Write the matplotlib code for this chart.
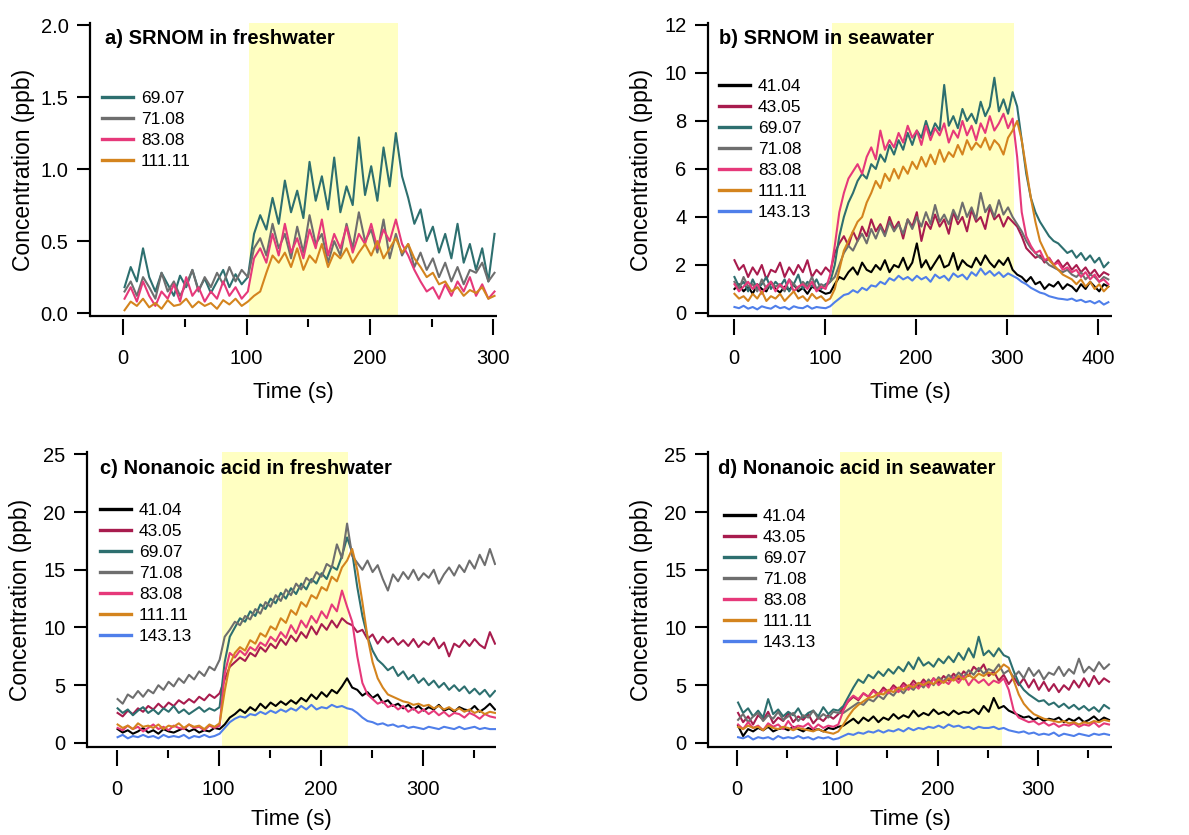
import numpy as np
import matplotlib.pyplot as plt
from matplotlib.ticker import MultipleLocator

plt.rcParams['font.family'] = ['Liberation Sans', 'DejaVu Sans']

W, H = 1189, 835
STEP = 5          # seconds between read-off samples
YELLOW = "#ffffc2"

COLORS = {
    "41.04":  "#000000",
    "43.05":  "#a81c4e",
    "69.07":  "#2d6f6f",
    "71.08":  "#6e6e6e",
    "83.08":  "#e6397a",
    "111.11": "#d4841e",
    "143.13": "#4f7fea",
}

# --- a) SRNOM in freshwater (0-300 s) ---
a_6907 = [0.18, 0.32, 0.22, 0.45, 0.25, 0.15, 0.28, 0.20, 0.12, 0.26, 0.18, 0.30, 0.16, 0.24, 0.14, 0.22, 0.30, 0.18, 0.27, 0.20,
          0.25, 0.55, 0.68, 0.58, 0.80, 0.62, 0.92, 0.70, 0.85, 0.66, 1.05, 0.78, 0.95, 0.72, 1.08, 0.70, 0.88, 0.75, 1.22, 0.82,
          1.02, 0.78, 1.15, 0.88, 1.25, 0.95, 0.80, 0.62, 0.72, 0.50, 0.60, 0.42, 0.55, 0.38, 0.62, 0.35, 0.48, 0.30, 0.45, 0.22, 0.55]
a_7108 = [0.15, 0.22, 0.12, 0.25, 0.18, 0.10, 0.28, 0.15, 0.22, 0.12, 0.20, 0.30, 0.15, 0.25, 0.18, 0.28, 0.20, 0.32, 0.22, 0.30,
          0.25, 0.45, 0.52, 0.40, 0.62, 0.45, 0.55, 0.38, 0.60, 0.42, 0.68, 0.48, 0.55, 0.35, 0.50, 0.40, 0.62, 0.45, 0.70, 0.50,
          0.58, 0.42, 0.65, 0.38, 0.55, 0.40, 0.48, 0.32, 0.42, 0.30, 0.38, 0.25, 0.35, 0.22, 0.32, 0.20, 0.30, 0.28, 0.35, 0.22, 0.28]
a_8308 = [0.10, 0.18, 0.08, 0.22, 0.12, 0.05, 0.15, 0.10, 0.20, 0.08, 0.25, 0.12, 0.18, 0.08, 0.15, 0.10, 0.22, 0.12, 0.18, 0.10,
          0.15, 0.38, 0.45, 0.35, 0.55, 0.40, 0.62, 0.42, 0.52, 0.38, 0.58, 0.45, 0.65, 0.40, 0.55, 0.45, 0.60, 0.42, 0.55, 0.48,
          0.62, 0.45, 0.58, 0.50, 0.65, 0.48, 0.40, 0.30, 0.22, 0.15, 0.18, 0.10, 0.20, 0.12, 0.22, 0.15, 0.25, 0.12, 0.20, 0.10, 0.15]
a_11111 = [0.02, 0.08, 0.05, 0.10, 0.04, 0.07, 0.03, 0.09, 0.05, 0.06, 0.10, 0.04, 0.08, 0.05, 0.07, 0.03, 0.09, 0.06, 0.10, 0.05,
           0.08, 0.12, 0.15, 0.28, 0.40, 0.35, 0.42, 0.32, 0.45, 0.30, 0.40, 0.35, 0.48, 0.32, 0.42, 0.38, 0.45, 0.35, 0.42, 0.48,
           0.40, 0.50, 0.38, 0.45, 0.52, 0.42, 0.48, 0.38, 0.32, 0.25, 0.28, 0.20, 0.22, 0.15, 0.18, 0.12, 0.16, 0.14, 0.18, 0.10, 0.12]

# --- b) SRNOM in seawater (0-410 s) ---
b_4104 = [1.0, 1.2, 0.9, 1.1, 0.8, 1.2, 1.0, 0.9, 1.3, 1.0, 0.85, 1.1, 0.95, 1.2, 0.9, 1.05, 0.8, 1.1, 1.0, 0.9, 0.8, 0.85,
          1.2, 1.5, 1.4, 1.7, 1.9, 1.6, 2.1, 1.8, 1.7, 2.0, 1.8, 2.2, 1.7, 2.0, 1.9, 2.3, 1.8, 2.1, 2.9, 1.9,
          2.2, 1.8, 2.1, 2.4, 1.9, 2.0, 2.5, 1.8, 2.2, 2.0, 1.9, 2.3, 2.0, 2.4, 2.1, 1.9, 2.2, 2.0, 2.3, 1.8,
          1.6, 1.5, 1.3, 1.5, 1.2, 1.3, 1.0, 1.2, 1.1, 1.3, 1.0, 1.2, 1.1, 0.9, 1.2, 1.0, 1.3, 1.1, 0.9, 1.2, 1.1]
b_4305 = [2.2, 1.8, 2.0, 1.5, 1.9, 1.6, 2.0, 1.4, 1.8, 1.7, 2.1, 1.5, 1.9, 1.6, 2.0, 1.7, 2.2, 1.5, 1.8, 1.6, 1.9, 1.7,
          2.5, 2.9, 3.2, 2.8, 3.4, 3.0, 3.6, 3.2, 3.9, 3.4, 3.7, 3.3, 4.0, 3.5, 3.8, 3.1, 3.9, 3.6, 4.2, 3.0,
          3.8, 3.5, 4.1, 3.6, 3.9, 3.3, 4.2, 3.7, 4.0, 3.4, 4.3, 3.8, 4.0, 3.5, 4.4, 3.9, 4.1, 3.6, 4.0, 3.8,
          3.6, 3.2, 2.7, 2.5, 2.3, 2.4, 2.1, 2.3, 2.0, 2.2, 1.9, 2.1, 1.8, 2.0, 1.7, 1.9, 1.6, 1.8, 1.5, 1.7, 1.6]
b_6907 = [1.5, 1.1, 1.3, 0.9, 1.4, 1.0, 1.2, 1.5, 1.0, 1.3, 1.1, 1.4, 0.9, 1.2, 1.6, 1.0, 1.3, 1.1, 1.4, 1.0, 1.2, 1.3,
          2.0, 3.2, 4.0, 4.6, 5.0, 5.5, 5.8, 5.6, 6.2, 6.0, 6.6, 6.3, 7.0, 6.6, 7.2, 6.8, 7.5, 7.0, 7.6, 7.3,
          8.0, 7.4, 7.9, 7.6, 9.5, 7.8, 8.2, 7.7, 8.5, 8.0, 8.3, 7.9, 8.8, 8.2, 8.6, 9.8, 8.4, 8.9, 8.3, 9.2,
          8.6, 7.2, 5.8, 4.8, 4.2, 3.8, 3.5, 3.2, 3.0, 2.9, 2.7, 2.5, 2.6, 2.3, 2.5, 2.2, 2.4, 2.1, 2.3, 1.9, 2.1]
b_7108 = [1.3, 1.0, 1.5, 1.1, 1.2, 0.9, 1.4, 1.0, 1.3, 1.1, 1.2, 0.9, 1.4, 1.2, 1.0, 1.3, 1.1, 1.5, 1.0, 1.2, 1.1, 1.3,
          1.5, 2.0, 2.5, 2.8, 2.6, 3.0, 3.3, 2.9, 3.5, 3.1, 3.6, 3.2, 3.8, 3.4, 3.7, 3.3, 3.9, 3.5, 4.0, 3.6,
          4.2, 3.7, 4.5, 3.8, 4.1, 3.7, 4.3, 3.9, 4.6, 4.0, 4.4, 3.9, 5.0, 4.2, 4.5, 4.0, 4.7, 4.1, 4.4, 4.0,
          3.7, 3.4, 3.0, 2.7, 2.5, 2.3, 2.2, 2.0, 1.9, 1.8, 1.7, 1.8, 1.6, 1.5, 1.7, 1.4, 1.6, 1.5, 1.3, 1.5, 1.4]
b_8308 = [1.2, 0.9, 1.1, 1.3, 1.0, 1.2, 0.8, 1.1, 1.3, 0.9, 1.2, 1.0, 1.4, 0.9, 1.1, 1.2, 1.0, 1.3, 0.9, 1.1, 1.0, 1.6,
          2.8, 4.2, 5.0, 5.6, 5.9, 6.2, 5.8, 6.5, 6.9, 6.4, 7.6, 6.8, 7.2, 6.9, 7.5, 7.1, 7.8, 7.3, 7.6, 7.0,
          7.8, 7.2, 7.7, 7.4, 7.9, 7.1, 7.6, 7.3, 8.0, 7.4, 7.8, 7.2, 7.9, 7.5, 8.2, 7.6, 7.9, 8.3, 7.7, 8.1,
          6.5, 4.2, 3.2, 2.8, 2.5, 2.6, 2.2, 2.3, 2.0, 2.1, 1.8, 1.9, 1.7, 1.8, 1.5, 1.7, 1.4, 1.6, 1.3, 1.4, 1.2]
b_11111 = [0.8, 0.6, 0.7, 0.5, 0.8, 0.6, 0.9, 0.5, 0.7, 0.6, 0.8, 0.5, 0.7, 0.9, 0.6, 0.7, 0.5, 0.8, 0.6, 0.7, 0.5, 0.6,
           1.0, 1.8, 2.6, 3.0, 3.4, 3.8, 4.0, 4.6, 5.0, 5.5, 5.2, 5.8, 5.5, 6.0, 5.6, 6.1, 5.8, 6.3, 6.0, 6.5,
           6.1, 6.6, 6.2, 6.8, 6.3, 6.7, 6.5, 7.0, 6.6, 7.2, 6.8, 7.1, 6.9, 7.3, 6.8, 7.2, 7.0, 6.6, 7.3, 7.6,
           8.0, 7.2, 6.0, 4.8, 3.8, 3.0, 2.6, 2.2, 2.0, 1.8, 1.6, 1.5, 1.4, 1.2, 1.4, 1.1, 1.3, 1.0, 1.2, 0.9, 1.1]
b_14313 = [0.25, 0.20, 0.30, 0.18, 0.25, 0.15, 0.28, 0.22, 0.18, 0.30, 0.20, 0.25, 0.15, 0.28, 0.22, 0.20, 0.30, 0.18, 0.25, 0.22, 0.20, 0.28,
           0.45, 0.60, 0.75, 0.80, 0.95, 0.85, 1.05, 0.95, 1.15, 1.10, 1.30, 1.20, 1.45, 1.35, 1.55, 1.40, 1.50, 1.35, 1.55, 1.40,
           1.50, 1.30, 1.60, 1.45, 1.55, 1.35, 1.65, 1.50, 1.60, 1.40, 1.70, 1.55, 1.85, 1.60, 1.75, 1.55, 1.70, 1.50, 1.65, 1.55,
           1.45, 1.30, 1.20, 1.05, 0.95, 0.85, 0.80, 0.70, 0.65, 0.60, 0.58, 0.55, 0.60, 0.50, 0.55, 0.45, 0.50, 0.40, 0.50, 0.35, 0.45]

# --- c) Nonanoic acid in freshwater (0-370 s) ---
c_4104 = [1.2, 0.9, 1.1, 0.8, 1.0, 1.3, 0.9, 1.1, 0.8, 1.2, 1.0, 0.9, 1.1, 1.3, 1.0, 1.2, 0.9, 1.1, 1.0, 1.3, 1.2,
          1.6, 2.2, 2.5, 2.9, 2.6, 3.1, 2.8, 3.4, 3.0, 3.5, 3.2, 3.6, 3.3, 3.7, 3.4, 3.9, 3.6, 4.2, 3.8, 4.4,
          4.0, 4.6, 4.3, 4.9, 5.6, 4.8, 4.6, 4.1, 4.4, 3.9, 4.2, 3.5, 3.7, 3.2, 3.4, 3.0, 3.3, 2.9, 3.2, 2.8,
          3.1, 2.9, 3.3, 2.8, 3.0, 2.7, 3.1, 2.9, 2.8, 3.2, 2.7, 3.0, 3.4, 2.9]
c_4305 = [2.6, 2.3, 2.8, 2.5, 3.0, 2.7, 3.2, 2.9, 3.4, 3.0, 3.5, 3.2, 3.7, 3.4, 3.8, 3.5, 4.0, 3.7, 4.2, 3.9, 4.3,
          5.5, 6.6, 7.0, 7.4, 7.1, 7.8, 7.5, 8.3, 7.9, 8.6, 8.2, 9.0, 8.5, 9.3, 8.8, 9.6, 9.1, 10.1, 9.4, 10.3,
          9.8, 10.6, 10.0, 10.8, 10.4, 10.2, 9.6, 9.8, 9.0, 9.4, 8.6, 9.2, 8.7, 9.1, 8.5, 8.9, 8.4, 9.0, 8.3, 8.8,
          8.5, 9.1, 8.2, 8.7, 7.5, 8.6, 8.3, 8.9, 8.4, 9.0, 8.5, 8.2, 9.6, 8.6]
c_6907 = [3.0, 2.6, 2.9, 2.4, 2.8, 3.1, 2.6, 2.9, 2.5, 3.0, 2.7, 3.2, 2.6, 2.9, 2.5, 2.8, 3.1, 2.7, 3.0, 2.8, 3.1,
          7.0, 9.2, 10.0, 10.8, 10.5, 11.4, 11.0, 12.0, 11.6, 12.5, 12.1, 13.0, 12.5, 13.4, 12.9, 13.8, 13.3, 14.2, 13.8, 14.7,
          14.2, 15.3, 15.0, 16.2, 17.8, 16.5, 13.5, 11.0, 9.2, 8.0, 7.2, 6.8, 6.3, 6.6, 5.8, 6.2, 5.5, 5.9, 5.2, 5.6,
          5.0, 5.4, 4.8, 5.2, 4.6, 5.0, 4.5, 4.9, 4.3, 4.7, 4.2, 4.6, 4.0, 4.5]
c_7108 = [3.8, 3.4, 4.2, 3.9, 4.5, 4.0, 4.6, 4.3, 5.0, 4.6, 5.3, 4.9, 5.6, 5.2, 5.9, 5.5, 6.2, 5.8, 6.6, 6.3, 7.2,
          9.2, 9.8, 10.5, 10.2, 11.0, 10.7, 11.6, 11.2, 12.2, 11.8, 12.8, 12.3, 13.3, 12.8, 13.8, 13.3, 14.3, 13.9, 14.8, 14.4,
          15.5, 15.2, 17.2, 16.0, 19.0, 16.2, 15.6, 15.0, 15.8, 14.8, 15.4, 14.2, 13.2, 14.6, 14.0, 14.8, 14.2, 15.0, 14.1, 14.7,
          14.3, 15.0, 13.8, 14.6, 15.2, 14.5, 15.4, 14.8, 15.8, 15.1, 16.3, 15.4, 16.8, 15.5]
c_8308 = [1.3, 1.1, 1.5, 1.2, 1.4, 1.0, 1.3, 1.6, 1.2, 1.4, 1.1, 1.5, 1.3, 1.2, 1.6, 1.3, 1.4, 1.1, 1.5, 1.3, 1.5,
          6.0, 7.8, 7.4, 8.0, 7.6, 8.3, 8.0, 8.7, 8.4, 9.2, 8.8, 9.6, 9.1, 10.2, 9.5, 10.6, 10.0, 11.0, 10.4, 11.4,
          10.8, 12.0, 11.4, 13.2, 11.8, 10.5, 7.5, 5.2, 4.2, 3.8, 3.4, 3.6, 3.1, 3.3, 2.9, 3.2, 2.7, 3.0, 2.6, 2.9,
          2.5, 2.8, 2.4, 2.7, 2.3, 2.6, 2.5, 2.2, 2.6, 2.4, 2.1, 2.5, 2.3, 2.2]
c_11111 = [1.6, 1.3, 1.5, 1.2, 1.7, 1.4, 1.5, 1.3, 1.6, 1.2, 1.5, 1.4, 1.7, 1.3, 1.6, 1.4, 1.5, 1.2, 1.6, 1.4, 1.7,
           4.5, 6.8, 7.8, 8.3, 8.0, 8.9, 8.6, 9.5, 9.2, 10.1, 9.8, 10.8, 10.4, 11.5, 11.1, 12.2, 11.8, 12.8, 12.5, 13.5,
           13.2, 14.4, 14.0, 15.2, 15.8, 16.8, 15.0, 12.2, 9.2, 7.0, 5.6, 4.8, 4.2, 4.0, 3.8, 3.6, 3.5, 3.3, 3.4, 3.2,
           3.3, 3.0, 3.2, 2.9, 3.1, 2.8, 3.0, 2.7, 2.9, 2.6, 2.8, 2.5, 2.7, 2.6]
c_14313 = [0.5, 0.7, 0.4, 0.6, 0.5, 0.7, 0.5, 0.6, 0.4, 0.7, 0.5, 0.6, 0.5, 0.7, 0.4, 0.6, 0.5, 0.7, 0.5, 0.6, 0.8,
           1.3, 1.8, 2.1, 2.3, 2.2, 2.5, 2.4, 2.7, 2.5, 2.8, 2.6, 2.9, 2.7, 3.0, 2.8, 3.2, 2.9, 3.3, 2.9, 3.1,
           3.0, 3.3, 3.1, 3.2, 3.0, 2.9, 2.6, 2.2, 1.9, 1.8, 1.6, 1.7, 1.5, 1.6, 1.4, 1.5, 1.3, 1.4, 1.3, 1.2,
           1.4, 1.3, 1.2, 1.4, 1.3, 1.2, 1.4, 1.2, 1.3, 1.4, 1.2, 1.3, 1.2, 1.2]

# --- d) Nonanoic acid in seawater (0-370 s) ---
d_4104 = [1.5, 0.6, 1.2, 1.0, 1.3, 1.1, 1.4, 1.0, 1.2, 1.3, 1.1, 1.4, 1.2, 1.0, 1.3, 1.1, 1.2, 1.0, 1.3, 1.2, 1.4,
          1.5, 1.8, 2.1, 1.7, 2.2, 1.9, 2.3, 1.8, 2.2, 2.0, 2.5, 2.1, 2.4, 2.2, 2.8, 2.3, 2.6, 2.4, 2.9, 2.5,
          2.7, 2.4, 2.8, 2.5, 2.7, 2.6, 2.9, 2.5, 3.2, 2.7, 3.9, 3.0, 3.2, 2.8, 2.6, 2.4, 2.2, 2.3, 2.0, 2.2,
          1.9, 2.1, 2.0, 2.2, 1.8, 2.1, 1.9, 2.2, 1.8, 2.0, 2.3, 1.9, 2.2, 2.0]
d_4305 = [2.6, 1.8, 2.3, 1.6, 2.4, 2.0, 2.7, 1.7, 2.2, 1.9, 2.6, 1.8, 2.3, 2.0, 2.5, 1.7, 2.2, 1.9, 2.4, 2.1, 2.5,
          3.0, 3.6, 4.0, 3.7, 4.3, 4.0, 4.6, 4.2, 4.8, 4.4, 5.0, 4.6, 5.2, 4.8, 5.4, 4.9, 5.5, 5.0, 5.6, 5.2,
          5.8, 5.4, 6.0, 5.5, 6.2, 5.8, 6.6, 6.2, 6.8, 5.8, 6.2, 5.4, 5.9, 5.1, 5.7, 5.0, 5.6, 4.8, 5.5, 4.6,
          5.3, 4.5, 5.1, 4.4, 5.0, 4.6, 5.4, 4.8, 5.6, 4.9, 5.8, 5.1, 5.6, 5.3]
d_6907 = [3.5, 2.6, 3.0, 2.3, 2.8, 2.2, 3.8, 2.5, 2.9, 2.3, 2.7, 2.4, 3.0, 2.2, 2.6, 2.8, 2.3, 3.1, 2.5, 2.9, 2.8,
          3.2, 4.0, 4.8, 5.5, 5.2, 5.9, 5.6, 6.2, 5.8, 6.4, 6.0, 6.6, 6.2, 7.0, 6.4, 7.4, 6.7, 7.0, 6.6, 7.3,
          6.9, 7.5, 7.0, 7.8, 7.2, 8.2, 7.4, 9.2, 7.6, 8.0, 7.5, 8.2, 7.6, 7.4, 6.2, 5.2, 4.6, 4.2, 3.9, 3.6,
          3.7, 3.3, 3.5, 3.1, 3.4, 3.0, 3.3, 2.9, 3.2, 2.8, 3.1, 2.7, 3.3, 3.0]
d_7108 = [2.0, 2.5, 1.8, 2.3, 2.6, 1.9, 2.4, 2.1, 2.7, 2.0, 2.3, 2.6, 1.9, 2.4, 2.2, 2.8, 2.1, 2.5, 2.2, 2.7, 2.6,
          2.6, 2.9, 3.2, 3.5, 3.3, 3.8, 3.6, 4.1, 3.8, 4.4, 4.1, 4.7, 4.3, 4.9, 4.6, 5.2, 4.8, 5.5, 5.0, 5.7,
          5.3, 5.9, 5.5, 6.1, 5.7, 6.3, 5.9, 6.5, 6.0, 6.4, 6.2, 6.8, 6.0, 6.3, 5.7, 6.2, 5.6, 6.5, 5.8, 6.3,
          5.5, 6.1, 5.9, 6.6, 5.8, 6.4, 6.0, 7.3, 6.1, 6.6, 6.2, 7.0, 6.4, 6.8]
d_8308 = [1.6, 1.2, 1.8, 1.3, 1.5, 1.1, 1.7, 1.4, 1.6, 1.2, 1.9, 1.3, 1.5, 1.4, 1.7, 1.2, 1.6, 1.3, 1.5, 1.4, 1.6,
          2.8, 3.7, 4.1, 3.8, 4.3, 4.0, 4.5, 4.1, 4.6, 4.3, 4.8, 4.4, 5.0, 4.6, 5.1, 4.7, 5.3, 4.8, 5.6, 5.0,
          5.4, 5.1, 5.7, 5.2, 5.8, 5.0, 5.6, 5.2, 5.5, 5.0, 5.4, 5.2, 5.6, 4.6, 2.8, 2.2, 2.0, 1.8, 1.9, 1.6,
          1.8, 1.5, 1.7, 1.4, 1.6, 1.5, 1.7, 1.4, 1.6, 1.5, 1.8, 1.4, 1.7, 1.6]
d_11111 = [1.4, 1.2, 1.5, 1.3, 1.4, 1.1, 1.5, 1.3, 1.2, 1.4, 1.3, 1.1, 1.3, 1.2, 1.1, 1.0, 1.2, 1.0, 0.9, 0.8, 1.0,
           1.6, 2.3, 2.9, 3.3, 3.6, 3.9, 4.0, 4.3, 4.2, 4.6, 4.4, 4.8, 4.6, 5.0, 4.8, 5.2, 5.0, 5.3, 5.1, 5.5,
           5.2, 5.6, 5.4, 5.8, 5.5, 5.9, 5.6, 6.0, 5.8, 6.1, 5.9, 6.3, 6.8, 6.5, 5.4, 4.2, 3.4, 2.9, 2.5, 2.3,
           2.1, 2.0, 1.9, 1.8, 1.9, 1.7, 1.8, 1.6, 1.8, 1.7, 1.9, 1.8, 2.0, 1.9]
d_14313 = [0.5, 0.4, 0.6, 0.3, 0.5, 0.4, 0.5, 0.3, 0.6, 0.4, 0.5, 0.4, 0.6, 0.4, 0.5, 0.3, 0.5, 0.4, 0.5, 0.3, 0.4,
           0.6, 0.8, 0.7, 0.9, 0.8, 1.0, 0.9, 1.1, 0.9, 1.1, 1.0, 1.2, 1.0, 1.3, 1.1, 1.3, 1.2, 1.4, 1.3, 1.5,
           1.3, 1.6, 1.4, 1.5, 1.3, 1.4, 1.2, 1.4, 1.3, 1.3, 1.4, 1.2, 1.3, 1.1, 1.0, 0.9, 1.0, 0.8, 0.9, 0.7,
           0.8, 0.7, 0.9, 0.6, 0.8, 0.7, 0.6, 0.8, 0.7, 0.6, 0.8, 0.7, 0.8, 0.7]


def fx(px):
    return px / W


def fy(py):
    return 1 - py / H


PANELS = [
    dict(rect=(90, 23, 497, 316), title="a) SRNOM in freshwater", title_px=(105, 38),
         series=[("69.07", a_6907), ("71.08", a_7108), ("83.08", a_8308), ("111.11", a_11111)],
         xlim=(-27, 303), ylim=(-0.02, 2.014), ystep=0.5, yfmt="%.1f", span=(102, 223),
         minor=True, legend_px=(102, 91), xlab_px=382),
    dict(rect=(708, 23, 1112, 316), title="b) SRNOM in seawater", title_px=(719, 39),
         series=[("41.04", b_4104), ("43.05", b_4305), ("69.07", b_6907), ("71.08", b_7108),
                 ("83.08", b_8308), ("111.11", b_11111), ("143.13", b_14313)],
         xlim=(-28, 415), ylim=(-0.125, 12.08), ystep=2, yfmt="%d", span=(108, 307),
         minor=False, legend_px=(719, 79), xlab_px=382),
    dict(rect=(87, 452, 496, 747), title="c) Nonanoic acid in freshwater", title_px=(100, 468),
         series=[("41.04", c_4104), ("43.05", c_4305), ("69.07", c_6907), ("71.08", c_7108),
                 ("83.08", c_8308), ("111.11", c_11111), ("143.13", c_14313)],
         xlim=(-29, 372), ylim=(-0.35, 25.2), ystep=5, yfmt="%d", span=(103, 227),
         minor=True, legend_px=(100, 503), xlab_px=809),
    dict(rect=(708, 452, 1112, 747), title="d) Nonanoic acid in seawater", title_px=(718, 468),
         series=[("41.04", d_4104), ("43.05", d_4305), ("69.07", d_6907), ("71.08", d_7108),
                 ("83.08", d_8308), ("111.11", d_11111), ("143.13", d_14313)],
         xlim=(-29, 374), ylim=(-0.35, 25.2), ystep=5, yfmt="%d", span=(103, 264),
         minor=True, legend_px=(724, 509), xlab_px=809),
]

fig = plt.figure(figsize=(W / 100, H / 100), dpi=100)

for p in PANELS:
    x0, y0, x1, y1 = p["rect"]
    ax = fig.add_axes([fx(x0), fy(y1), fx(x1) - fx(x0), fy(y0) - fy(y1)])
    ax.axvspan(*p["span"], color=YELLOW, lw=0, zorder=0)
    for mass, vals in p["series"]:
        t = 1 + STEP * np.arange(len(vals))
        ax.plot(t, vals, color=COLORS[mass], lw=1.5, label=mass, zorder=2)

    ax.set_xlim(*p["xlim"])
    ax.set_ylim(*p["ylim"])
    ax.xaxis.set_major_locator(MultipleLocator(100))
    if p["minor"]:
        ax.xaxis.set_minor_locator(MultipleLocator(50))
    ax.yaxis.set_major_locator(MultipleLocator(p["ystep"]))
    ax.yaxis.set_major_formatter(plt.FormatStrFormatter(p["yfmt"]))

    for s in ("top", "right"):
        ax.spines[s].set_visible(False)
    ax.spines["left"].set_linewidth(1.6)
    # Igor-style: x ticks hang just below the axis line
    ax.spines["bottom"].set_position(("outward", 2.5))
    ax.spines["bottom"].set_visible(False)
    ax.plot([0, 1], [0, 0], transform=ax.transAxes, color="black", lw=1.6,
            clip_on=False, solid_capstyle="butt", zorder=5)

    ax.tick_params(axis="y", direction="out", length=9.5, width=1.5, pad=6, labelsize=14.5)
    ax.tick_params(axis="x", which="major", direction="out", length=11.5, width=1.5, pad=9.5, labelsize=14.5)
    ax.tick_params(axis="x", which="minor", direction="out", length=6, width=1.5)

    ax.set_xlabel("Time (s)", fontsize=16)
    ax.set_ylabel("Concentration (ppb)", fontsize=16.5)
    ax.xaxis.set_label_coords(0.5, (fy(p["xlab_px"]) - fy(y1)) / (fy(y0) - fy(y1)))
    ax.yaxis.set_label_coords(-0.135, 0.5)

    lx, ly = p["legend_px"]
    leg = ax.legend(loc="upper left", bbox_to_anchor=(fx(lx), fy(ly)), bbox_transform=fig.transFigure,
                    frameon=False, fontsize=12.5, handlelength=1.8, handletextpad=0.45,
                    labelspacing=0.34, borderpad=0, borderaxespad=0)
    for line in leg.get_lines():
        line.set_linewidth(2.4)

    tx, ty = p["title_px"]
    fig.text(fx(tx), fy(ty), p["title"], fontsize=14.5, fontweight="bold", ha="left", va="center")

fig.savefig("out.png", dpi=100)
